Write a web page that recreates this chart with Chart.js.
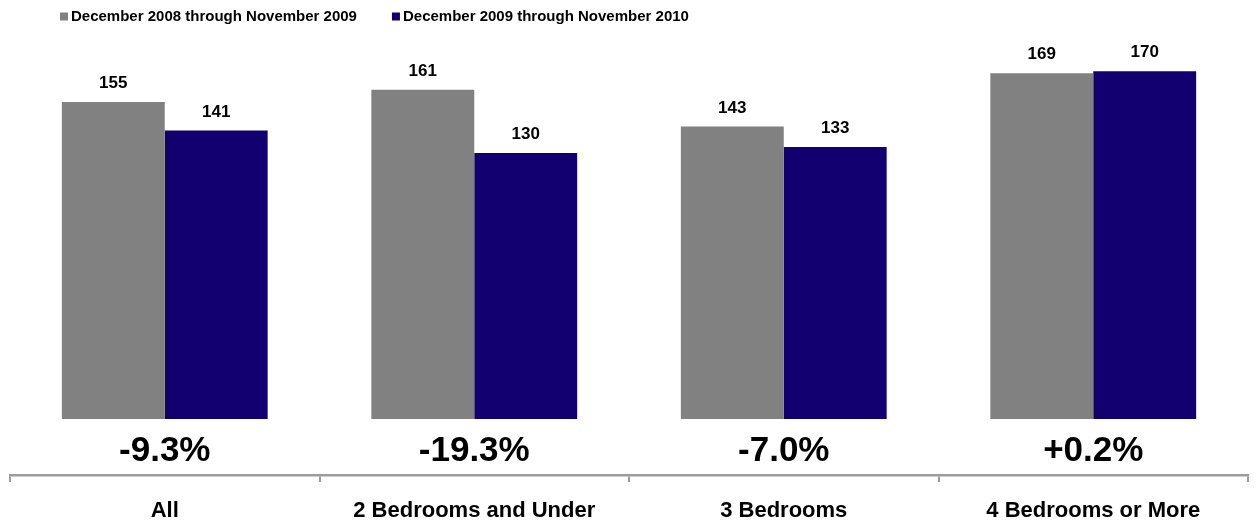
<!DOCTYPE html>
<html>
<head>
<meta charset="utf-8">
<title>Bedrooms comparison</title>
<script src="https://cdn.jsdelivr.net/npm/chart.js@4/dist/chart.umd.min.js"></script>
<style>
  html, body { margin: 0; padding: 0; background: #fff; }
  #chart { display: block; }
</style>
</head>
<body>
<canvas id="chart" width="1259" height="522"></canvas>
<script>
// categories and series
const categories = ["All", "2 Bedrooms and Under", "3 Bedrooms", "4 Bedrooms or More"];
const seriesNames = ["December 2008 through November 2009", "December 2009 through November 2010"];
const period1 = [155, 161, 143, 169];
const period2 = [141, 130, 133, 170];
// year over year change, in percent
const changePct = [-9.3, -19.3, -7.0, 0.2];

const colors = ["#818181", "#120070"];
const FONT = "'Liberation Sans', Arial, Helvetica, sans-serif";

function fmtChange(v) {
  return (v > 0 ? "+" : "") + v.toFixed(1) + "%";
}

// legend drawn by hand so it can sit where we want it
const topLegend = {
  id: "topLegend",
  afterDraw(chart) {
    const ctx = chart.ctx;
    ctx.save();
    ctx.font = "bold 15px " + FONT;
    ctx.textBaseline = "alphabetic";
    ctx.textAlign = "left";
    let x = 60;
    chart.data.datasets.forEach(function (ds) {
      ctx.fillStyle = ds.backgroundColor;
      ctx.fillRect(x, 12.5, 8, 8);
      ctx.fillStyle = "#000";
      ctx.fillText(ds.label, x + 11, 21);
      x += 11 + ctx.measureText(ds.label).width + 35;
    });
    ctx.restore();
  }
};

// numbers above the bars and the change figure under each group
const barLabels = {
  id: "barLabels",
  afterDatasetsDraw(chart) {
    const ctx = chart.ctx;
    ctx.save();
    ctx.fillStyle = "#000";
    ctx.textAlign = "center";
    ctx.textBaseline = "alphabetic";
    ctx.font = "bold 17px " + FONT;
    chart.data.datasets.forEach(function (ds, i) {
      const meta = chart.getDatasetMeta(i);
      meta.data.forEach(function (bar, j) {
        ctx.fillText(String(ds.data[j]), bar.x, bar.y - 14);
      });
    });

    const xs = chart.scales.x;
    ctx.font = "bold 35px " + FONT;
    changePct.forEach(function (v, j) {
      ctx.fillText(fmtChange(v), xs.getPixelForValue(j), chart.chartArea.bottom - 14);
    });
    ctx.restore();
  }
};

new Chart(document.getElementById("chart"), {
  type: "bar",
  data: {
    labels: categories,
    datasets: [
      { label: seriesNames[0], data: period1, backgroundColor: colors[0] },
      { label: seriesNames[1], data: period2, backgroundColor: colors[1] }
    ]
  },
  options: {
    responsive: false,
    animation: false,
    devicePixelRatio: 1,
    events: [],
    categoryPercentage: 0.665,
    barPercentage: 1.0,
    layout: { padding: { left: 10, right: 11, top: 40, bottom: 0 } },
    plugins: {
      legend: { display: false },
      tooltip: { enabled: false }
    },
    scales: {
      y: {
        display: false,
        min: -27.4,
        max: 185.3
      },
      x: {
        afterFit: function (scale) { scale.height = 47; },
        border: { display: true, color: "#9c9c9c", width: 2.5 },
        grid: {
          display: true,
          drawOnChartArea: false,
          drawTicks: true,
          tickLength: 7,
          color: "#9c9c9c",
          lineWidth: 2
        },
        ticks: {
          color: "#000",
          padding: 16,
          font: { family: FONT, size: 22, weight: "bold" }
        }
      }
    }
  },
  plugins: [topLegend, barLabels]
});
</script>
</body>
</html>
